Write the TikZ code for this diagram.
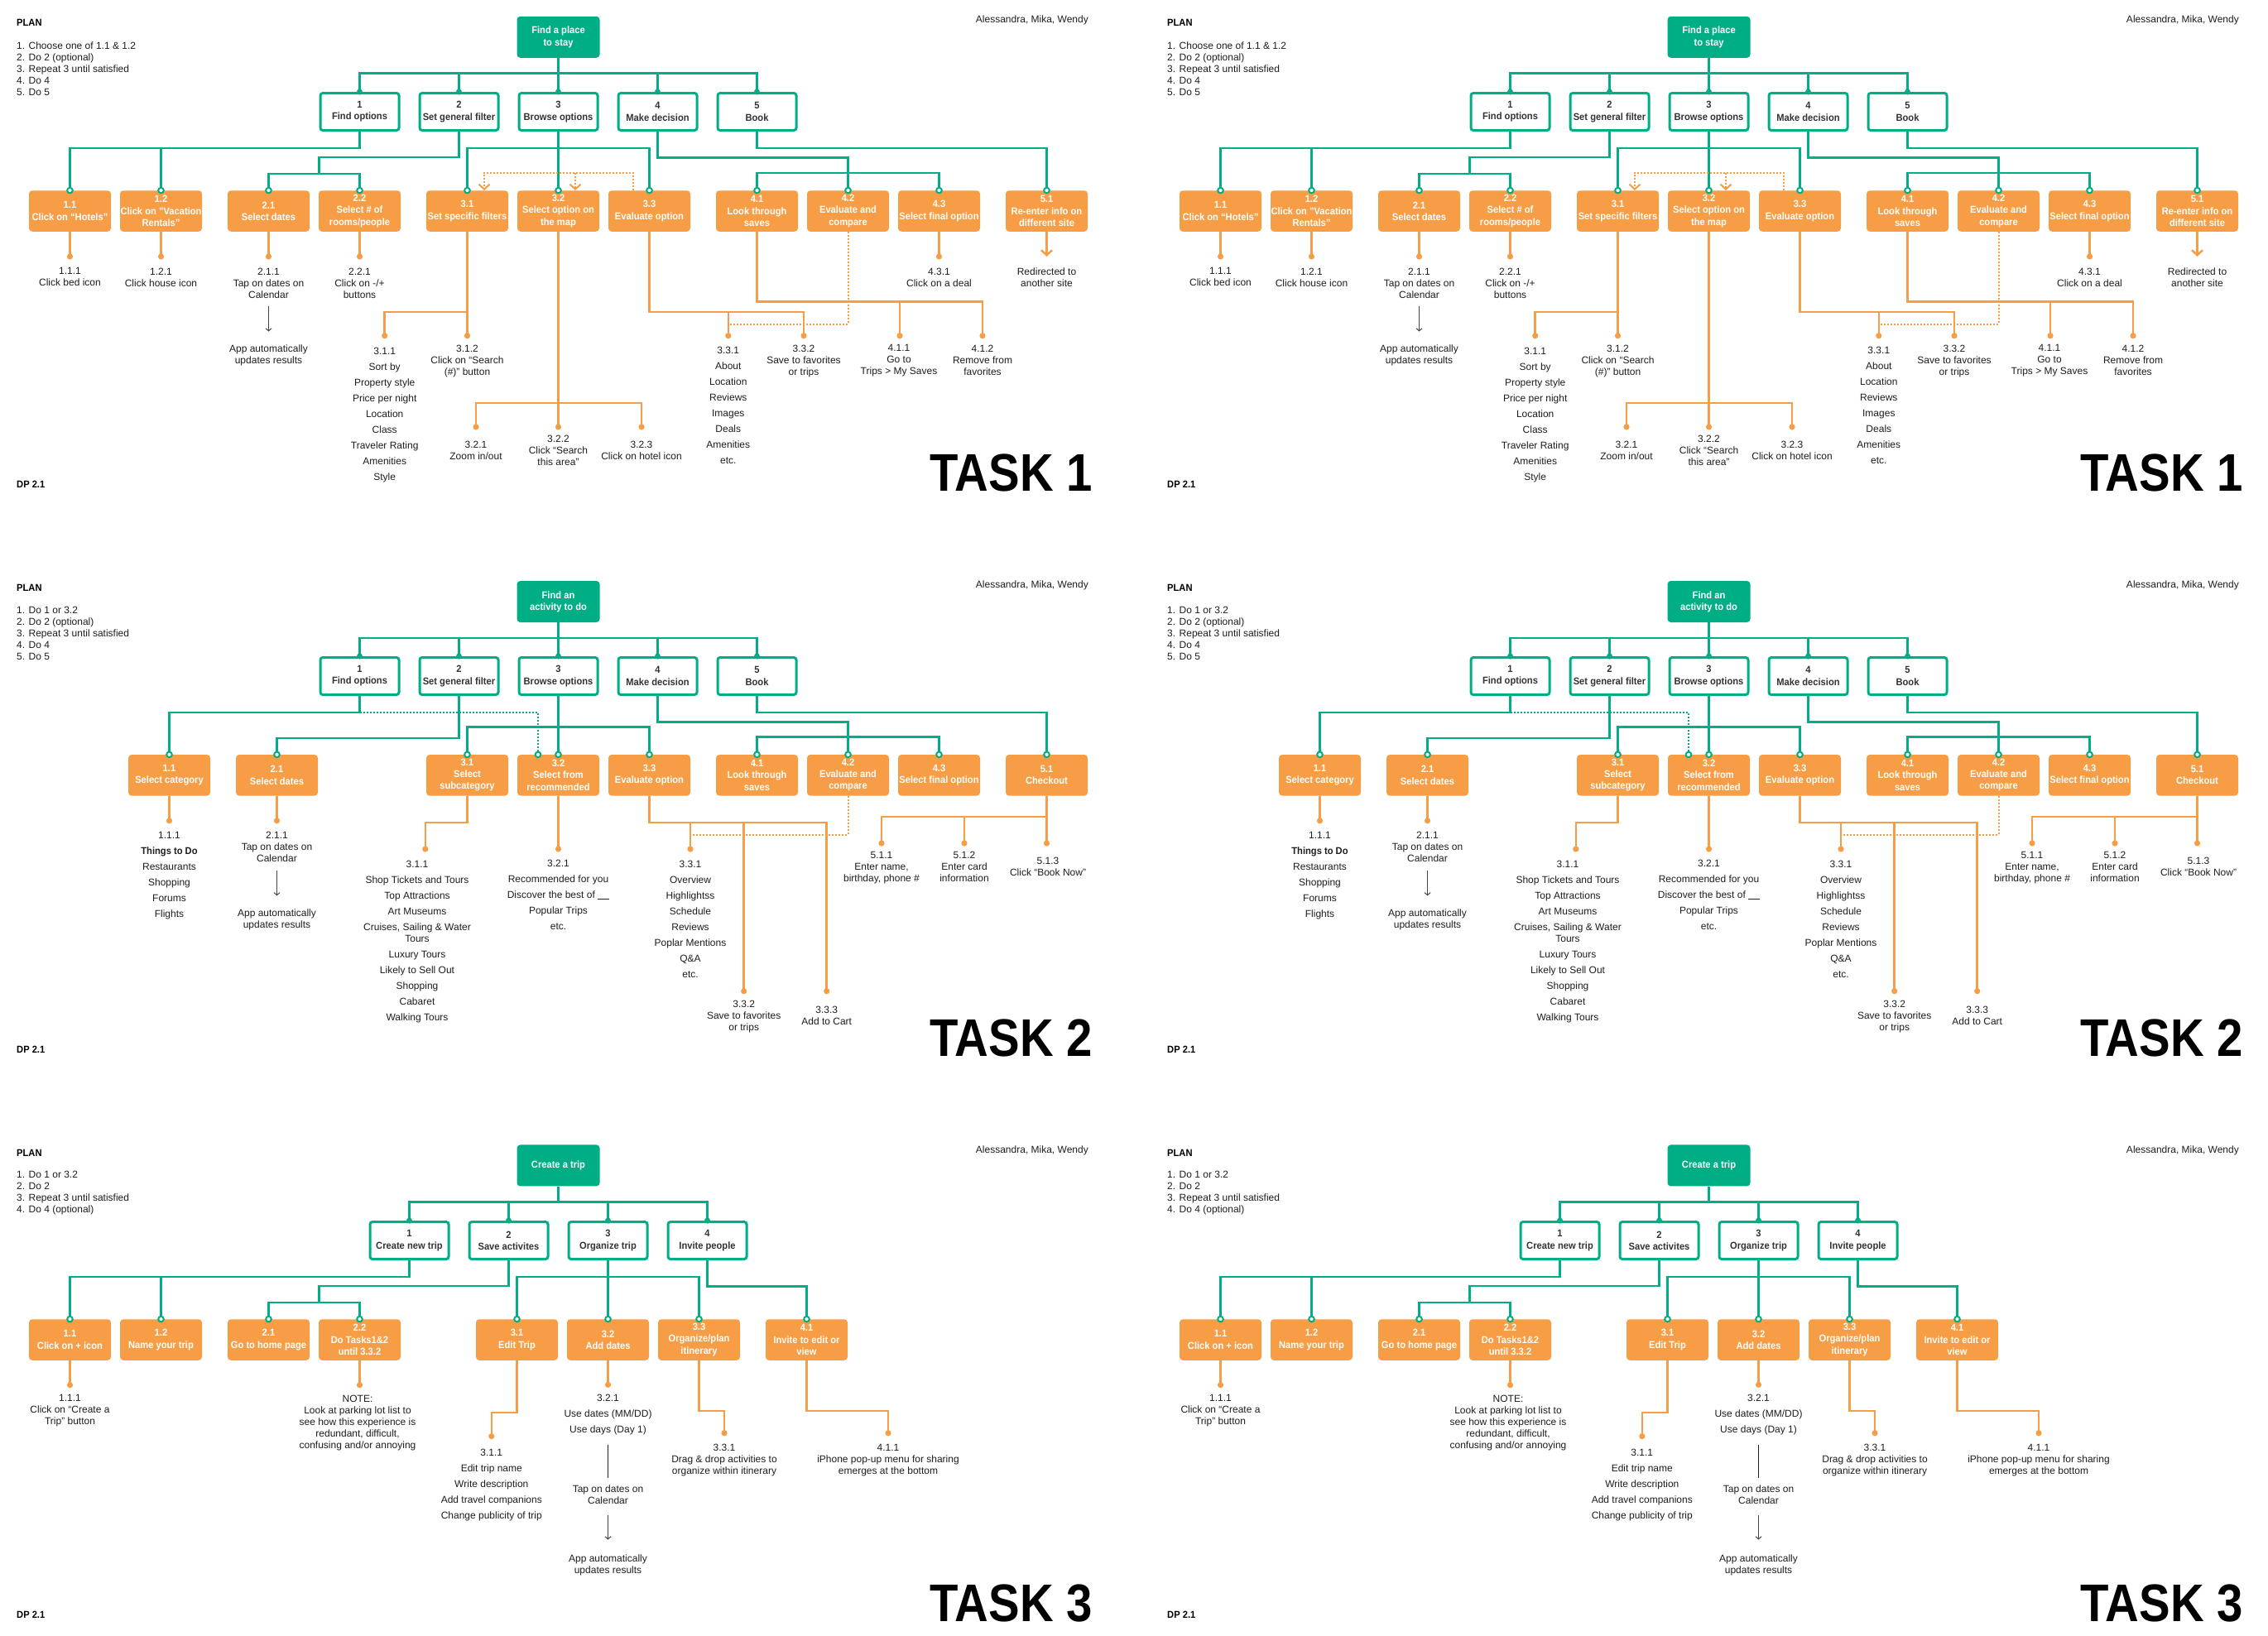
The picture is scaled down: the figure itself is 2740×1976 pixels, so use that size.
\documentclass[tikz,border=0pt]{standalone}
\usepackage{fontspec}
\setmainfont{Liberation Sans}[BoldFeatures={FakeStretch=0.93}]
\newfontfamily\taskfont{Liberation Sans}[FakeStretch=0.88]
\usetikzlibrary{arrows.meta}
\definecolor{tgreen}{HTML}{00AE86}
\definecolor{torange}{HTML}{F79D45}
\definecolor{tdark}{HTML}{1E1E1E}
\definecolor{tbox}{HTML}{333333}
\definecolor{tgray}{HTML}{444444}
\newcommand\txtfont{\fontsize{12}{14}\selectfont}
\newcommand\boxfont{\fontsize{12}{14.2}\selectfont\bfseries}
\tikzset{
 rootbox/.style={fill=tgreen, rounded corners=4pt, minimum width=100pt, minimum height=50pt, inner sep=0pt, text=white, font=\boxfont, align=center},
 lonebox/.style={draw=tgreen, line width=3pt, fill=white, rounded corners=3pt, minimum width=95pt, minimum height=45pt, inner sep=0pt, text=tbox, font=\boxfont, align=center},
 ltwobox/.style={fill=torange, rounded corners=4pt, minimum width=99pt, minimum height=49.5pt, inner sep=0pt, text=white, font=\boxfont, align=center},
 lbl/.style={anchor=north, yshift=4.5pt, inner sep=0pt, align=center, text=tdark, font=\txtfont},
 gl/.style={draw=tgreen, line width=2.7pt},
 gdotted/.style={draw=tgreen, line width=2pt, dash pattern=on 2pt off 2pt},
 ol/.style={draw=torange, line width=2.5pt},
 od/.style={draw=torange, line width=2pt, dash pattern=on 2pt off 2pt},
 barb/.style={-{Straight Barb[length=6pt,width=13pt]}},
 garr/.style={draw=tgray, line width=1pt, -{Straight Barb[length=3pt,width=7pt]}},
 gline/.style={draw=tdark, line width=1pt},
}
\newcommand\GDot[1]{\fill[tgreen] (#1) circle[radius=3.5pt];}
\newcommand\GRing[1]{\draw[tgreen, line width=2pt, fill=white] (#1) circle[radius=3.3pt];}
\newcommand\ODot[1]{\fill[torange] (#1) circle[radius=3.6pt];}
\newcommand\Header[3]{%
 \node[anchor=west, inner sep=0pt, font=\fontsize{12}{14}\selectfont\bfseries, text=black] (plan) at (20,27.6) {PLAN};
 \node[anchor=north west, inner sep=0pt, align=left, font=\txtfont, text=tdark] (planlist) at (20,#3) {#1};
 \node[anchor=east, inner sep=0pt, font=\txtfont, text=tdark] (authors) at (1315,24.5) {Alessandra, Mika, Wendy};
 \node[anchor=west, inner sep=0pt, font=\fontsize{12}{14}\selectfont\bfseries, text=black] (dp) at (20,585.5) {DP 2.1};
 \node[anchor=base east, inner sep=0pt, font=\taskfont\fontsize{64}{70}\selectfont\bfseries, text=black] (task) at (1320,593) {TASK #2};
}
% ---------------- TASK 1 ----------------
\newcommand\TaskOne{%
 \Header{1. Choose one of 1.1 \& 1.2\\2. Do 2 (optional)\\3. Repeat 3 until satisfied\\4. Do 4\\5. Do 5}{1}{51}
 \node[rootbox] (root) at (674.5,44.8) {Find a place\\to stay};
 \node[lonebox] (a1) at (434.5,135) {1\\Find options};
 \node[lonebox] (a2) at (554.5,135) {2\\Set general filter};
 \node[lonebox] (a3) at (674.5,135) {3\\Browse options};
 \node[lonebox] (a4) at (794.5,135) {4\\Make decision};
 \node[lonebox] (a5) at (914.5,135) {5\\Book};
 \node[ltwobox] (b11) at (84.5,255) {1.1\\Click on “Hotels”};
 \node[ltwobox] (b12) at (194.5,255) {1.2\\Click on "Vacation\\Rentals"};
 \node[ltwobox] (b21) at (324.5,255) {2.1\\Select dates};
 \node[ltwobox] (b22) at (434.5,255) {2.2\\Select \# of\\rooms/people};
 \node[ltwobox] (b31) at (564.5,255) {3.1\\Set specific filters};
 \node[ltwobox] (b32) at (674.5,255) {3.2\\Select option on\\the map};
 \node[ltwobox] (b33) at (784.5,255) {3.3\\Evaluate option};
 \node[ltwobox] (b41) at (914.5,255) {4.1\\Look through\\saves};
 \node[ltwobox] (b42) at (1024.5,255) {4.2\\Evaluate and\\compare};
 \node[ltwobox] (b43) at (1134.5,255) {4.3\\Select final option};
 \node[ltwobox] (b51) at (1264.5,255) {5.1\\Re-enter info on\\different site};
 % labels
 \node[lbl] (t111) at (84.5,328) {1.1.1\\Click bed icon};
 \node[lbl] (t121) at (194.5,328) {1.2.1\\Click house icon};
 \node[lbl] (t211) at (324.5,328) {2.1.1\\Tap on dates on\\Calendar};
 \node[lbl] (t211b) at (324.5,421) {App automatically\\updates results};
 \node[lbl] (t221) at (434.5,328) {2.2.1\\Click on -/+\\buttons};
 \node[lbl] (t311) at (464.7,424) {3.1.1\\[5pt]Sort by\\[5pt]Property style\\[5pt]Price per night\\[5pt]Location\\[5pt]Class\\[5pt]Traveler Rating\\[5pt]Amenities\\[5pt]Style};
 \node[lbl] (t312) at (564.5,421) {3.1.2\\Click on “Search\\(\#)” button};
 \node[lbl] (t321) at (575,537.7) {3.2.1\\Zoom in/out};
 \node[lbl] (t322) at (674.5,530.8) {3.2.2\\Click “Search\\this area”};
 \node[lbl] (t323) at (775,537.7) {3.2.3\\Click on hotel icon};
 \node[lbl] (t331) at (879.8,423) {3.3.1\\[5pt]About\\[5pt]Location\\[5pt]Reviews\\[5pt]Images\\[5pt]Deals\\[5pt]Amenities\\[5pt]etc.};
 \node[lbl] (t332) at (971,421) {3.3.2\\Save to favorites\\or trips};
 \node[lbl] (t411) at (1086,421) {4.1.1\\Go to\\Trips > My Saves};
 \node[lbl] (t412) at (1187,421) {4.1.2\\Remove from\\favorites};
 \node[lbl] (t431) at (1134.5,328) {4.3.1\\Click on a deal};
 \node[lbl] (t511) at (1264.5,328) {Redirected to\\another site};
 % green tree
 \draw[gl] (root.south) -- (root.south|-0,88.8);
 \draw[gl] (a1.north) |- (a5.north|-0,88.8) -- (a5.north);
 \foreach \n in {a2,a3,a4} {\draw[gl] (\n.north) -- (\n.north|-0,88.8);}
 \draw[gl] (a1.south) -- (a1.south|-0,179) -| (b11.north);
 \draw[gl] (b12.north) -- (b12.north|-0,179);
 \draw[gl] (a2.south) -- (a2.south|-0,190) -- (385.5,190) -- (385.5,210);
 \draw[gl] (b21.north) |- (b22.north|-0,210) -- (b22.north);
 \draw[gl] (a3.south) -- (b32.north);
 \draw[gl] (b31.north) |- (b33.north|-0,179) -- (b33.north);
 \draw[gl] (a4.south) -- (a4.south|-0,190.5) -| (b42.north);
 \draw[gl] (b41.north) |- (b43.north|-0,209) -- (b43.north);
 \draw[gl] (a5.south) -- (a5.south|-0,179) -| (b51.north);
 \foreach \n in {a1,a2,a3,a4,a5} {\GDot{\n.north}}
 \foreach \n in {b11,b12,b21,b22,b31,b32,b33,b41,b42,b43,b51} {\GRing{\n.north}}
 % dotted orange with arrows
 \coordinate (dj) at (695,209);
 \draw[od,barb] ([xshift=-19.5pt]b33.north) -- ++(0,-21.4) -| ([xshift=20.5pt]b31.north);
 \draw[od,barb] (dj) -- (dj|-b32.north);
 % orange
 \foreach \n/\y in {b11/310,b12/310,b21/310,b22/310,b43/310} {\draw[ol] (\n.south) -- (\n.south|-0,\y); \ODot{\n.south|-0,\y}}
 \draw[garr, shorten <=10pt, shorten >=16pt] (t211.south) -- (t211b.north);
 \draw[ol] (b31.south) -- (b31.south|-0,405.7);
 \draw[ol] (b31.south|-0,377) -| (464.7,405.7);
 \ODot{b31.south|-0,405.7} \ODot{464.7,405.7}
 \draw[ol] (b32.south) -- (b32.south|-0,515.9);
 \draw[ol] (575,515.9) |- (775,486.8) -- (775,515.9);
 \ODot{575,515.9} \ODot{b32.south|-0,515.9} \ODot{775,515.9}
 \draw[ol] (b33.south) |- (971,377) -- (971,405.7);
 \draw[ol] (879.8,377) -- (879.8,405.7);
 \ODot{879.8,405.7} \ODot{971,405.7}
 \draw[ol] (b41.south) |- (1187,364.7) -- (1187,405.7);
 \draw[ol] (1087,364.7) -- (1087,405.7);
 \ODot{1087,405.7} \ODot{1187,405.7}
 \draw[od] (b42.south) |- (880,391.5);
 \draw[ol,barb] (b51.south) -- (b51.south|-0,310);
}
% ---------------- TASK 2 ----------------
\newcommand\TaskTwo{%
 \Header{1. Do 1 or 3.2\\2. Do 2 (optional)\\3. Repeat 3 until satisfied\\4. Do 4\\5. Do 5}{2}{50.2}
 \node[rootbox] (root) at (674.5,44) {Find an\\activity to do};
 \node[lonebox] (a1) at (434.5,134) {1\\Find options};
 \node[lonebox] (a2) at (554.5,134) {2\\Set general filter};
 \node[lonebox] (a3) at (674.5,134) {3\\Browse options};
 \node[lonebox] (a4) at (794.5,134) {4\\Make decision};
 \node[lonebox] (a5) at (914.5,134) {5\\Book};
 \node[ltwobox] (b11) at (204.5,253.8) {1.1\\Select category};
 \node[ltwobox] (b21) at (334.5,253.8) {2.1\\Select dates};
 \node[ltwobox] (b31) at (564.5,253.8) {3.1\\Select\\subcategory};
 \node[ltwobox] (b32) at (674.5,253.8) {3.2\\Select from\\recommended};
 \node[ltwobox] (b33) at (784.5,253.8) {3.3\\Evaluate option};
 \node[ltwobox] (b41) at (914.5,253.8) {4.1\\Look through\\saves};
 \node[ltwobox] (b42) at (1024.5,253.8) {4.2\\Evaluate and\\compare};
 \node[ltwobox] (b43) at (1134.5,253.8) {4.3\\Select final option};
 \node[ltwobox] (b51) at (1264.5,253.8) {5.1\\Checkout};
 % labels
 \node[lbl] (t111) at (204.5,326.4) {1.1.1\\[5pt]\textbf{Things to Do}\\[5pt]Restaurants\\[5pt]Shopping\\[5pt]Forums\\[5pt]Flights};
 \node[lbl] (t211) at (334.5,326.4) {2.1.1\\Tap on dates on\\Calendar};
 \node[lbl] (t211b) at (334.5,419.8) {App automatically\\updates results};
 \node[lbl] (t311) at (504,361.3) {3.1.1\\[5pt]Shop Tickets and Tours\\[5pt]Top Attractions\\[5pt]Art Museums\\[5pt]Cruises, Sailing \& Water\\Tours\\[5pt]Luxury Tours\\[5pt]Likely to Sell Out\\[5pt]Shopping\\[5pt]Cabaret\\[5pt]Walking Tours};
 \node[lbl] (t321) at (674.5,360.5) {3.2.1\\[5pt]Recommended for you\\[5pt]Discover the best of \rule[-1.5pt]{14pt}{0.8pt}\\[5pt]Popular Trips\\[5pt]etc.};
 \node[lbl] (t331) at (834,361.3) {3.3.1\\[5pt]Overview\\[5pt]Highlightss\\[5pt]Schedule\\[5pt]Reviews\\[5pt]Poplar Mentions\\[5pt]Q\&A\\[5pt]etc.};
 \node[lbl] (t332) at (898.7,530) {3.3.2\\Save to favorites\\or trips};
 \node[lbl] (t333) at (998.7,537) {3.3.3\\Add to Cart};
 \node[lbl] (t511) at (1065,350.6) {5.1.1\\Enter name,\\birthday, phone \#};
 \node[lbl] (t512) at (1165,350.6) {5.1.2\\Enter card\\information};
 \node[lbl] (t513) at (1266,357.8) {5.1.3\\Click “Book Now”};
 % green tree
 \draw[gl] (root.south) -- (root.south|-0,88);
 \draw[gl] (a1.north) |- (a5.north|-0,88) -- (a5.north);
 \foreach \n in {a2,a3,a4} {\draw[gl] (\n.north) -- (\n.north|-0,88);}
 \coordinate (gd) at (650,178);
 \draw[gdotted] (a1.south|-gd) -- (gd) -- (gd|-b32.north);
 \draw[gl] (a1.south) -- (a1.south|-0,178) -| (b11.north);
 \draw[gl] (a2.south) -- (a2.south|-0,209) -| (b21.north);
 \draw[gl] (a3.south) -- (b32.north);
 \draw[gl] (b31.north) |- (b33.north|-0,195.2) -- (b33.north);
 \draw[gl] (a4.south) -- (a4.south|-0,189.8) -| (b42.north);
 \draw[gl] (b41.north) |- (b43.north|-0,207.8) -- (b43.north);
 \draw[gl] (a5.south) -- (a5.south|-0,178) -| (b51.north);
 \foreach \n in {a1,a2,a3,a4,a5} {\GDot{\n.north}}
 \foreach \n in {b11,b21,b31,b32,b33,b41,b42,b43,b51} {\GRing{\n.north}}
 \GRing{gd|-b32.north}
 % orange
 \foreach \n/\y in {b11/308.8,b21/308.8,b32/343} {\draw[ol] (\n.south) -- (\n.south|-0,\y); \ODot{\n.south|-0,\y}}
 \draw[garr, shorten <=10pt, shorten >=16pt] (t211.south) -- (t211b.north);
 \draw[ol] (b31.south) -- (b31.south|-0,310.8) -| (513.8,343);
 \ODot{513.8,343}
 \draw[ol] (b33.south) |- (998.7,310.8) -- (998.7,514.7);
 \draw[ol] (834,310.8) -- (834,343);
 \draw[ol] (898.7,310.8) -- (898.7,514.7);
 \ODot{834,343} \ODot{898.7,514.7} \ODot{998.7,514.7}
 \draw[od] (b42.south) |- (834,325.7);
 \draw[ol] (b51.south) -- (b51.south|-0,336);
 \draw[ol] (b51.south|-0,303.9) -| (1065,336);
 \draw[ol] (1165,303.9) -- (1165,336);
 \ODot{1065,336} \ODot{1165,336} \ODot{b51.south|-0,336}
}
% ---------------- TASK 3 ----------------
\newcommand\TaskThree{%
 \Header{1. Do 1 or 3.2\\2. Do 2\\3. Repeat 3 until satisfied\\4. Do 4 (optional)}{3}{49.2}
 \node[rootbox] (root) at (674.5,42.4) {Create a trip};
 \node[lonebox] (a1) at (494.5,133) {1\\Create new trip};
 \node[lonebox] (a2) at (614.5,133) {2\\Save activites};
 \node[lonebox] (a3) at (734.5,133) {3\\Organize trip};
 \node[lonebox] (a4) at (854.5,133) {4\\Invite people};
 \node[ltwobox] (b11) at (84.5,253) {1.1\\Click on + icon};
 \node[ltwobox] (b12) at (194.5,253) {1.2\\Name your trip};
 \node[ltwobox] (b21) at (324.5,253) {2.1\\Go to home page};
 \node[ltwobox] (b22) at (434.5,253) {2.2\\Do Tasks1\&2\\until 3.3.2};
 \node[ltwobox] (b31) at (624.5,253) {3.1\\Edit Trip};
 \node[ltwobox] (b32) at (734.5,253) {3.2\\Add dates};
 \node[ltwobox] (b33) at (844.5,253) {3.3\\Organize/plan\\itinerary};
 \node[ltwobox] (b41) at (974.5,253) {4.1\\Invite to edit or\\view};
 % labels
 \node[lbl] (t111) at (84.5,323.7) {1.1.1\\Click on “Create a\\Trip” button};
 \node[lbl] (t221) at (432,324.8) {NOTE:\\Look at parking lot list to\\see how this experience is\\redundant, difficult,\\confusing and/or annoying};
 \node[lbl] (t311) at (593.8,389.8) {3.1.1\\[5pt]Edit trip name\\[5pt]Write description\\[5pt]Add travel companions\\[5pt]Change publicity of trip};
 \node[lbl] (t321) at (734.5,323.7) {3.2.1\\[5pt]Use dates (MM/DD)\\[5pt]Use days (Day 1)};
 \node[lbl] (t321b) at (734.5,433) {Tap on dates on\\Calendar};
 \node[lbl] (t321c) at (734.5,517) {App automatically\\updates results};
 \node[lbl] (t331) at (875,383.6) {3.3.1\\Drag \& drop activities to\\organize within itinerary};
 \node[lbl] (t411) at (1073,383.6) {4.1.1\\iPhone pop-up menu for sharing\\emerges at the bottom};
 % green tree
 \draw[gl] (root.south) -- (root.south|-0,86.4);
 \draw[gl] (a1.north) |- (a4.north|-0,86.4) -- (a4.north);
 \foreach \n in {a2,a3} {\draw[gl] (\n.north) -- (\n.north|-0,86.4);}
 \draw[gl] (a1.south) -- (a1.south|-0,177) -| (b11.north);
 \draw[gl] (b12.north) -- (b12.north|-0,177);
 \draw[gl] (a2.south) -- (a2.south|-0,187.9) -- (385.5,187.9) -- (385.5,208.1);
 \draw[gl] (b21.north) |- (b22.north|-0,208.1) -- (b22.north);
 \draw[gl] (a3.south) -- (b32.north);
 \draw[gl] (b31.north) |- (b33.north|-0,177) -- (b33.north);
 \draw[gl] (a4.south) -- (a4.south|-0,188.7) -| (b41.north);
 \foreach \n in {a1,a2,a3,a4} {\GDot{\n.north}}
 \foreach \n in {b11,b12,b21,b22,b31,b32,b33,b41} {\GRing{\n.north}}
 % orange
 \foreach \n/\y in {b11/307.7,b22/307.7,b32/307.3} {\draw[ol] (\n.south) -- (\n.south|-0,\y); \ODot{\n.south|-0,\y}}
 \draw[ol] (b31.south) -- (b31.south|-0,340.8) -| (593.8,369.6);
 \ODot{593.8,369.6}
 \draw[ol] (b33.south) -- (b33.south|-0,338.8) -| (875,365.7);
 \ODot{875,365.7}
 \draw[ol] (b41.south) -- (b41.south|-0,338.8) -| (1073,365.7);
 \ODot{1073,365.7}
 \draw[gline, shorten <=12pt, shorten >=8.5pt] (t321.south) -- (t321b.north);
 \draw[garr, shorten <=13pt, shorten >=18pt] (t321b.south) -- (t321c.north);
}
\begin{document}
\begin{tikzpicture}[x=1pt,y=-1pt]
 \fill[white] (0,0) rectangle (2740,1976);
 \useasboundingbox (0,0) rectangle (2740,1976);
 \begin{scope}[shift={(0,0)},name prefix=L1-] \TaskOne \end{scope}
 \begin{scope}[shift={(0,683)},name prefix=L2-] \TaskTwo \end{scope}
 \begin{scope}[shift={(0,1366)},name prefix=L3-] \TaskThree \end{scope}
 \begin{scope}[shift={(1390,0)},name prefix=R1-] \TaskOne \end{scope}
 \begin{scope}[shift={(1390,683)},name prefix=R2-] \TaskTwo \end{scope}
 \begin{scope}[shift={(1390,1366)},name prefix=R3-] \TaskThree \end{scope}
\end{tikzpicture}
\end{document}
